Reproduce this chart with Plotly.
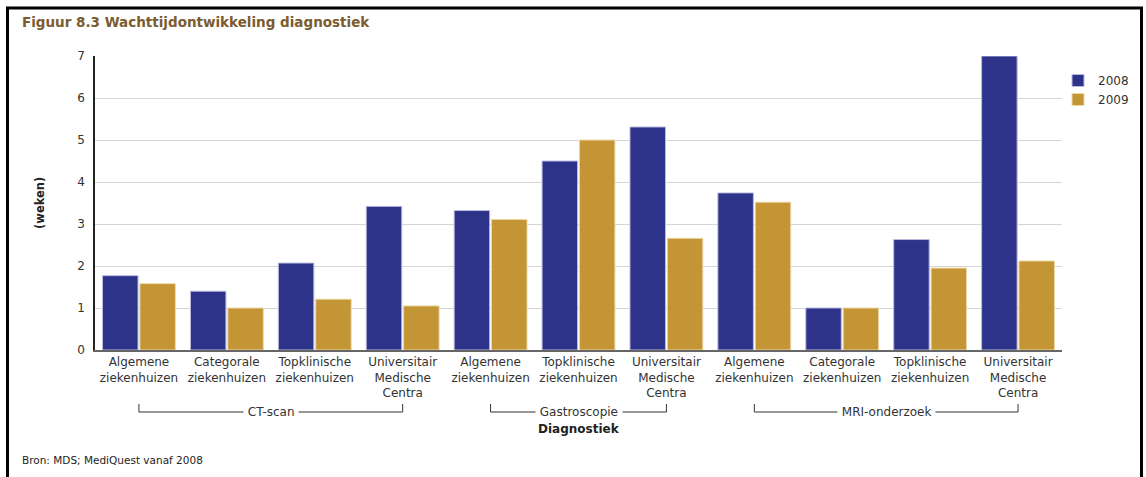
import plotly.graph_objects as go

# ---- data ----
groups = ["CT-scan", "Gastroscopie", "MRI-onderzoek"]
group_sizes = [4, 3, 4]
categories = [
    "Algemene<br>ziekenhuizen", "Categorale<br>ziekenhuizen", "Topklinische<br>ziekenhuizen", "Universitair<br>Medische<br>Centra",
    "Algemene<br>ziekenhuizen", "Topklinische<br>ziekenhuizen", "Universitair<br>Medische<br>Centra",
    "Algemene<br>ziekenhuizen", "Categorale<br>ziekenhuizen", "Topklinische<br>ziekenhuizen", "Universitair<br>Medische<br>Centra",
]
values_2008 = [1.77, 1.40, 2.07, 3.42, 3.32, 4.50, 5.31, 3.74, 1.00, 2.63, 7.00]
values_2009 = [1.58, 1.00, 1.21, 1.05, 3.11, 5.00, 2.66, 3.52, 1.00, 1.95, 2.12]
series_names = ["2008", "2009"]
y_ticks = [0, 1, 2, 3, 4, 5, 6, 7]

title_text = "Figuur 8.3 Wachttijdontwikkeling diagnostiek"
source_text = "Bron: MDS; MediQuest vanaf 2008"
x_title = "Diagnostiek"
y_title = "(weken)"

# ---- figure ----
xpos = list(range(len(categories)))
FONT = "DejaVu Sans, Verdana, sans-serif"
colors = ["#2e338a", "#c49535"]
edge = ["#b9bbe0", "#ecd9a8"]

fig = go.Figure()
for name, vals, c, e in zip(series_names, [values_2008, values_2009], colors, edge):
    fig.add_trace(go.Bar(
        x=xpos, y=vals, name=name,
        marker=dict(color=c, line=dict(color=e, width=1)),
    ))

W, H = 1146, 477
ml, mr, mt, mb = 95, 84, 56, 127
pw = W - ml - mr
ph = H - mt - mb

def py(pix):
    return (H - mb - pix) / ph

def px(pix):
    return (pix - ml) / pw

shapes = []
annotations = []
start = 0
y_line = py(412)
y_tick_top = py(404)
for g, n in zip(groups, group_sizes):
    x0 = xpos[start]
    x1 = xpos[start + n - 1]
    shapes.append(dict(type="line", xref="x", yref="paper", x0=x0, x1=x1, y0=y_line, y1=y_line,
                       line=dict(color="#333333", width=1)))
    for xx in (x0, x1):
        shapes.append(dict(type="line", xref="x", yref="paper", x0=xx, x1=xx, y0=y_line, y1=y_tick_top,
                           line=dict(color="#333333", width=1)))
    annotations.append(dict(text="&nbsp;" + g + "&nbsp;", xref="x", yref="paper", x=(x0 + x1) / 2, y=y_line,
                            showarrow=False, bgcolor="white", font=dict(family=FONT, size=12, color="#333333"),
                            xanchor="center", yanchor="middle", borderpad=0))
    start += n

# frame border (top, left, right)
shapes.append(dict(type="path", xref="paper", yref="paper",
                   path=f"M {px(7.5)},{py(480)} L {px(7.5)},{py(8)} L {px(1141.5)},{py(8)} L {px(1141.5)},{py(480)}",
                   line=dict(color="black", width=3)))

annotations.append(dict(text="<b>" + title_text + "</b>", xref="paper", yref="paper", x=px(20), y=py(22),
                        xanchor="left", yanchor="middle", showarrow=False,
                        font=dict(family=FONT, size=13.5, color="#7b5c2e")))
annotations.append(dict(text=source_text, xref="paper", yref="paper", x=px(20), y=py(460),
                        xanchor="left", yanchor="middle", showarrow=False,
                        font=dict(family=FONT, size=10.5, color="#222222")))
annotations.append(dict(text="<b>" + x_title + "</b>", xref="paper", yref="paper", x=0.5, y=py(429),
                        xanchor="center", yanchor="middle", showarrow=False,
                        font=dict(family=FONT, size=12, color="#222222")))
annotations.append(dict(text="<b>" + y_title + "</b>", xref="paper", yref="paper", x=px(40), y=0.5,
                        xanchor="center", yanchor="middle", showarrow=False, textangle=-90,
                        font=dict(family=FONT, size=11.5, color="#222222")))

fig.update_layout(
    width=W, height=H,
    margin=dict(l=ml, r=mr, t=mt, b=mb, pad=0, autoexpand=False),
    paper_bgcolor="white", plot_bgcolor="white",
    barmode="group", bargap=0.15, bargroupgap=0.05,
    font=dict(family=FONT, size=12, color="#333333"),
    showlegend=True,
    legend=dict(x=px(1058), y=py(66), xanchor="left", yanchor="top",
                font=dict(family=FONT, size=12, color="#333333"),
                itemwidth=30, tracegroupgap=0, bgcolor="rgba(0,0,0,0)"),
    shapes=shapes, annotations=annotations,
)
fig.update_xaxes(
    tickmode="array", tickvals=xpos, ticktext=categories,
    range=[-0.5, len(categories) - 0.5],
    showline=True, linecolor="#666666", linewidth=1.5,
    showgrid=False, ticks="", tickfont=dict(family=FONT, size=12, color="#333333"),
    zeroline=False, automargin=False,
)
fig.update_yaxes(
    range=[0, 7], tickmode="array", tickvals=y_ticks,
    showline=True, linecolor="#222222", linewidth=1.5,
    showgrid=True, gridcolor="#d4d4d4", gridwidth=1,
    zeroline=False, ticks="", ticklabelstandoff=6, automargin=False,
    tickfont=dict(family=FONT, size=12, color="#333333"),
)

fig.write_html("out.html", config={"displayModeBar": False},
               post_script="document.body.style.margin='0px';")
